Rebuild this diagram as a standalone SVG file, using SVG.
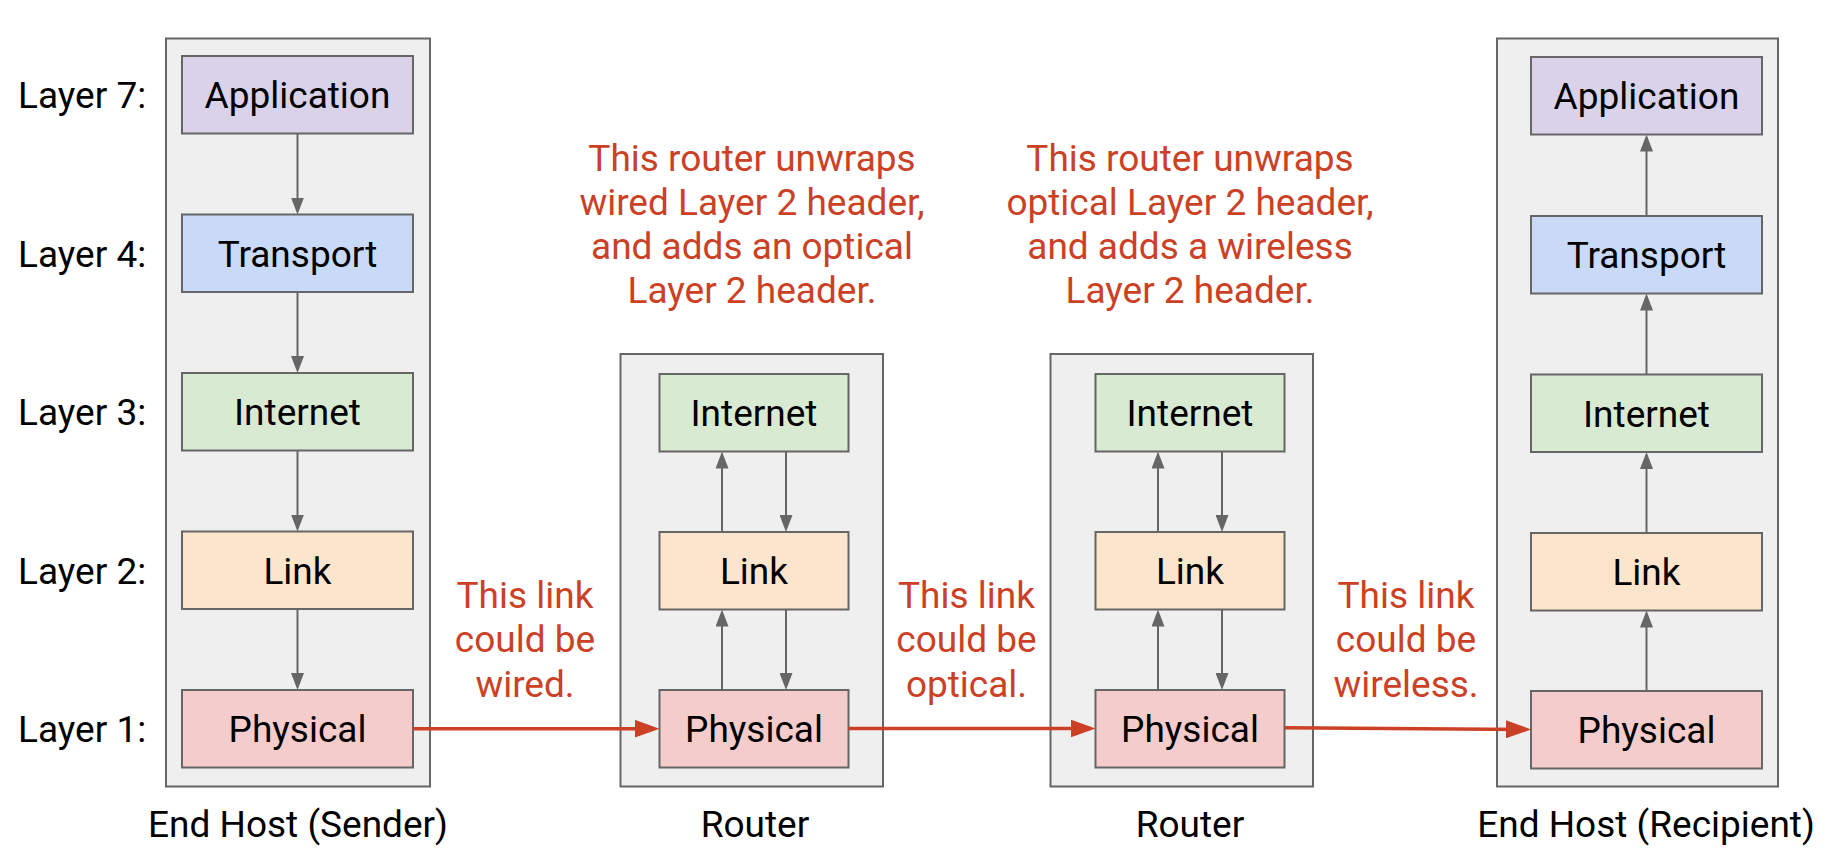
<svg xmlns="http://www.w3.org/2000/svg" width="1825" height="857" viewBox="0 0 1825 857">
<style>
text{font-family:Roboto,"Liberation Sans",sans-serif;font-size:37px;fill:#000}
.c{text-anchor:middle}
.red{fill:#cc4125}
.outer{fill:#efefef;stroke:#666;stroke-width:2}
.box{stroke:#666;stroke-width:2}
.app{fill:#d9d2e9}.tra{fill:#c9daf8}.int{fill:#d9ead3}.lnk{fill:#fce5cd}.phy{fill:#f4cccc}
.g{stroke:#666;stroke-width:2;fill:none;marker-end:url(#ga)}
.r{stroke:#cc4125;stroke-width:3.5;fill:none;marker-end:url(#ra)}
</style>
<defs>
<marker id="ga" markerUnits="userSpaceOnUse" markerWidth="17" markerHeight="13" refX="14" refY="6.5" orient="auto"><path d="M0,0 L17,6.5 L0,13 z" fill="#666"/></marker>
<marker id="ra" markerUnits="userSpaceOnUse" markerWidth="25" markerHeight="18" refX="20" refY="9" orient="auto"><path d="M0,0 L25,9 L0,18 z" fill="#cc4125"/></marker>
</defs>

<g id="layer-labels">
<text x="18" y="108">Layer 7:</text>
<text x="18" y="266.5">Layer 4:</text>
<text x="18" y="425">Layer 3:</text>
<text x="18" y="583.5">Layer 2:</text>
<text x="18" y="742">Layer 1:</text>
</g>

<g id="sender">
<rect class="outer" x="166" y="38.5" width="264" height="748"/>
<g id="s-app"><rect class="box app" x="182" y="56" width="231" height="77.5"/><text class="c" x="297.5" y="108">Application</text></g>
<g id="s-tra"><rect class="box tra" x="182" y="214.5" width="231" height="77.5"/><text class="c" x="297.5" y="266.5">Transport</text></g>
<g id="s-int"><rect class="box int" x="182" y="373" width="231" height="77.5"/><text class="c" x="297.5" y="425">Internet</text></g>
<g id="s-lnk"><rect class="box lnk" x="182" y="531.5" width="231" height="77.5"/><text class="c" x="297.5" y="583.5">Link</text></g>
<g id="s-phy"><rect class="box phy" x="182" y="690" width="231" height="77.5"/><text class="c" x="297.5" y="742">Physical</text></g>
<text class="c" x="298" y="837">End Host (Sender)</text>
</g>

<g id="router1">
<rect class="outer" x="620.5" y="354" width="262.5" height="432.5"/>
<g id="r1-int"><rect class="box int" x="659.5" y="374" width="189" height="77.5"/><text class="c" x="754" y="426">Internet</text></g>
<g id="r1-lnk"><rect class="box lnk" x="659.5" y="532" width="189" height="77.5"/><text class="c" x="754" y="584">Link</text></g>
<g id="r1-phy"><rect class="box phy" x="659.5" y="690" width="189" height="77.5"/><text class="c" x="754" y="742">Physical</text></g>
<text class="c" x="755" y="837">Router</text>
</g>

<g id="router2">
<rect class="outer" x="1050.5" y="354" width="262.5" height="432.5"/>
<g id="r2-int"><rect class="box int" x="1095.5" y="374" width="189" height="77.5"/><text class="c" x="1190" y="426">Internet</text></g>
<g id="r2-lnk"><rect class="box lnk" x="1095.5" y="532" width="189" height="77.5"/><text class="c" x="1190" y="584">Link</text></g>
<g id="r2-phy"><rect class="box phy" x="1095.5" y="690" width="189" height="77.5"/><text class="c" x="1190" y="742">Physical</text></g>
<text class="c" x="1190" y="837">Router</text>
</g>

<g id="recipient">
<rect class="outer" x="1497" y="38.5" width="281" height="748"/>
<g id="d-app"><rect class="box app" x="1531" y="57" width="231" height="77.5"/><text class="c" x="1646.5" y="109">Application</text></g>
<g id="d-tra"><rect class="box tra" x="1531" y="216" width="231" height="77.5"/><text class="c" x="1646.5" y="268">Transport</text></g>
<g id="d-int"><rect class="box int" x="1531" y="374.5" width="231" height="77.5"/><text class="c" x="1646.5" y="426.5">Internet</text></g>
<g id="d-lnk"><rect class="box lnk" x="1531" y="533" width="231" height="77.5"/><text class="c" x="1646.5" y="585">Link</text></g>
<g id="d-phy"><rect class="box phy" x="1531" y="691" width="231" height="77.5"/><text class="c" x="1646.5" y="743">Physical</text></g>
<text class="c" x="1646" y="837">End Host (Recipient)</text>
</g>

<g id="notes">
<text class="c red" x="752" y="170.5">This router unwraps</text>
<text class="c red" x="752" y="214.8">wired Layer 2 header,</text>
<text class="c red" x="752" y="259">and adds an optical</text>
<text class="c red" x="752" y="303.3">Layer 2 header.</text>
<text class="c red" x="1190" y="170.5">This router unwraps</text>
<text class="c red" x="1190" y="214.8">optical Layer 2 header,</text>
<text class="c red" x="1190" y="259">and adds a wireless</text>
<text class="c red" x="1190" y="303.3">Layer 2 header.</text>
<text class="c red" x="525" y="607.5">This link</text>
<text class="c red" x="525" y="652">could be</text>
<text class="c red" x="525" y="696.5">wired.</text>
<text class="c red" x="966.5" y="607.5">This link</text>
<text class="c red" x="966.5" y="652">could be</text>
<text class="c red" x="966.5" y="696.5">optical.</text>
<text class="c red" x="1406" y="607.5">This link</text>
<text class="c red" x="1406" y="652">could be</text>
<text class="c red" x="1406" y="696.5">wireless.</text>
</g>

<g id="connectors">
<line class="g" x1="297.5" y1="133.5" x2="297.5" y2="211.5"/>
<line class="g" x1="297.5" y1="292" x2="297.5" y2="370"/>
<line class="g" x1="297.5" y1="450.5" x2="297.5" y2="528.5"/>
<line class="g" x1="297.5" y1="609" x2="297.5" y2="687"/>
<line class="g" x1="722" y1="532" x2="722" y2="454.5"/>
<line class="g" x1="786" y1="451.5" x2="786" y2="529"/>
<line class="g" x1="722" y1="690" x2="722" y2="612.5"/>
<line class="g" x1="786" y1="609.5" x2="786" y2="687"/>
<line class="g" x1="1158" y1="532" x2="1158" y2="454.5"/>
<line class="g" x1="1222" y1="451.5" x2="1222" y2="529"/>
<line class="g" x1="1158" y1="690" x2="1158" y2="612.5"/>
<line class="g" x1="1222" y1="609.5" x2="1222" y2="687"/>
<line class="g" x1="1646.5" y1="691" x2="1646.5" y2="613.5"/>
<line class="g" x1="1646.5" y1="533" x2="1646.5" y2="455"/>
<line class="g" x1="1646.5" y1="374.5" x2="1646.5" y2="296.5"/>
<line class="g" x1="1646.5" y1="216" x2="1646.5" y2="137.5"/>
<line class="r" x1="413" y1="728.7" x2="654.5" y2="728.7"/>
<line class="r" x1="848.5" y1="728.5" x2="1090.5" y2="728.5"/>
<line class="r" x1="1285" y1="727.7" x2="1526" y2="729.4"/>
</g>
</svg>
